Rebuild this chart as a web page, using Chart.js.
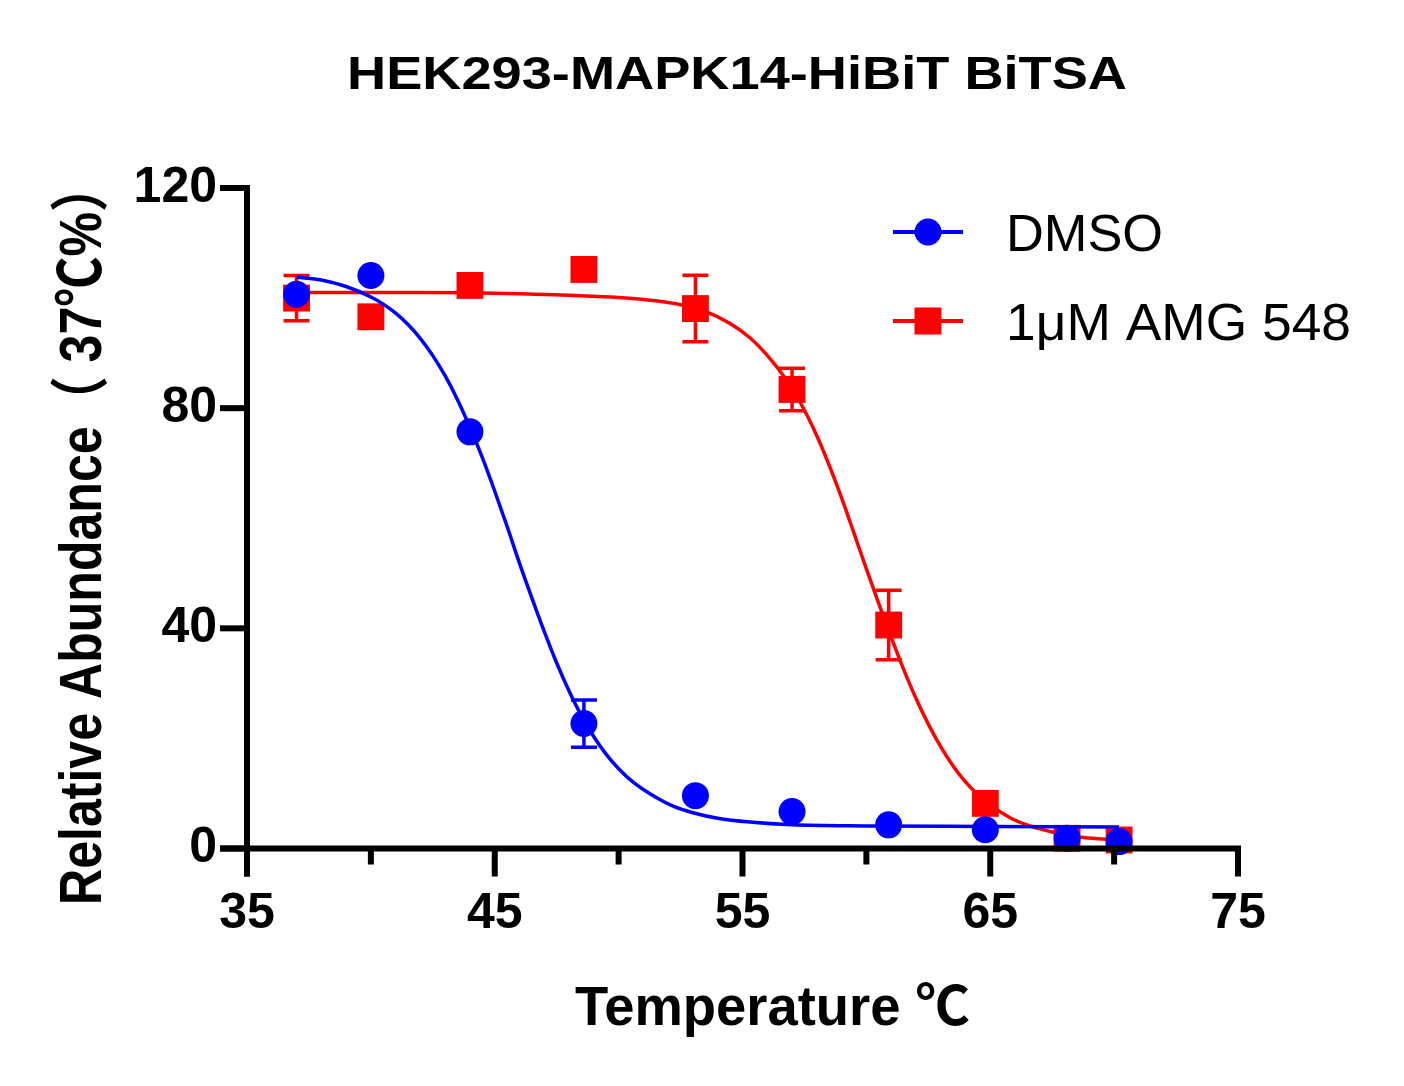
<!DOCTYPE html>
<html><head><meta charset="utf-8">
<script src="https://cdn.jsdelivr.net/npm/chart.js@4.4.1/dist/chart.umd.min.js"></script>
<style>html,body{margin:0;padding:0;background:#fff;} canvas{display:block;}</style>
</head><body>
<canvas id="c" width="1404" height="1086" style="width:1404px;height:1086px"></canvas>
<script>
const chartTitle = 'HEK293-MAPK14-HiBiT BiTSA';
const xTitle = 'Temperature ℃';
const yTitle = 'Relative Abundance（ 37℃%）';
const seriesNames = ['DMSO', '1μM AMG 548'];
const seriesColors = ['#0000FF', '#FF0000'];

const temperatures = [37, 40, 44, 48.6, 53.1, 57, 60.9, 64.8, 68.1, 70.2];
const dmsoMean = [100.7, 104.1, 75.7, 22.7, 9.6, 6.7, 4.3, 3.4, 1.85, 1.25];
const dmsoErr  = [0, 0, 0, 4.3, 0, 0, 0, 0, 0, 0];
const amgMean  = [100.0, 96.6, 102.3, 105.2, 98.1, 83.4, 40.6, 8.2, 1.85, 1.55];
const amgErr   = [4.1, 0, 0, 0, 6.05, 3.85, 6.3, 0, 0, 0];

const dmsoFitX = [37, 38, 39, 40, 40.5, 41, 41.5, 42, 42.5, 43, 43.5, 44, 44.5, 45, 45.5, 46, 46.5, 47, 47.5, 48, 48.5, 49, 49.5, 50, 50.6, 51.5, 52.2, 53, 54, 55.3, 57, 60, 65, 70.2];
const dmsoFitY = [103.8, 103.3, 102.1, 100.2, 98.9, 97.25, 95.2, 92.65, 89.55, 85.85, 81.5, 76.5, 71.0, 64.9, 58.5, 51.8, 45.5, 39.4, 33.7, 28.6, 24.1, 20.3, 17.1, 14.5, 12.0, 9.3, 7.7, 6.5, 5.5, 4.8, 4.3, 4.1, 4.0, 3.9];
const amgFitX = [37, 42, 46, 48, 50, 51.5, 52.5, 53.5, 54.5, 55.3, 56, 56.7, 57.3, 58, 58.5, 59, 59.5, 60, 60.5, 61, 61.5, 62, 62.5, 63, 63.5, 64, 64.5, 65.1, 65.8, 66.6, 67.5, 68.2, 69, 70.2];
const amgFitY = [101.0, 101.0, 100.8, 100.5, 100.1, 99.5, 98.8, 97.6, 95.4, 92.8, 89.6, 85.6, 81.3, 75.0, 69.6, 63.7, 57.3, 50.8, 44.5, 38.4, 32.6, 27.3, 22.6, 18.5, 15.0, 12.1, 9.8, 7.6, 5.6, 4.1, 3.0, 2.3, 1.9, 1.5];

const xMin = 35, xMax = 75, xStep = 5;
const xTickLabels = [35, 45, 55, 65, 75];
const yMin = 0, yMax = 120;
const yTickLabels = [0, 40, 80, 120];

const FONT = "'Liberation Sans', Arial, 'Noto Sans CJK SC', sans-serif";
Chart.defaults.font.family = FONT;
Chart.defaults.color = '#000';

const zip = (xs, ys) => xs.map((x, i) => ({x, y: ys[i]}));
const errSets = [
  {mean: dmsoMean, err: dmsoErr, color: seriesColors[0]},
  {mean: amgMean, err: amgErr, color: seriesColors[1]}
];

function fitText(ctx, text, font, targetW) {
  ctx.font = font;
  const w = ctx.measureText(text).width;
  return targetW / w;
}

const decor = {
  id: 'decor',
  beforeDatasetsDraw(chart) {
    const ctx = chart.ctx, xs = chart.scales.x, ys = chart.scales.y;
    ctx.save();
    ctx.lineWidth = 3.5;
    errSets.forEach(s => {
      ctx.strokeStyle = s.color;
      temperatures.forEach((t, i) => {
        const e = s.err[i];
        if (!e) return;
        const x = xs.getPixelForValue(t);
        const y1 = ys.getPixelForValue(s.mean[i] + e);
        const y2 = ys.getPixelForValue(s.mean[i] - e);
        ctx.beginPath();
        ctx.moveTo(x, y1); ctx.lineTo(x, y2);
        ctx.moveTo(x - 13, y1); ctx.lineTo(x + 13, y1);
        ctx.moveTo(x - 13, y2); ctx.lineTo(x + 13, y2);
        ctx.stroke();
      });
    });
    ctx.restore();
  },
  afterDatasetsDraw(chart) {
    const ctx = chart.ctx, xs = chart.scales.x, ys = chart.scales.y;
    const a = chart.chartArea;
    const lw = 6, majorLen = 28, minorLen = 16, yLen = 27;
    ctx.save();
    ctx.fillStyle = '#000';
    ctx.fillRect(a.left - yLen, a.bottom - lw / 2, (a.right + lw / 2) - (a.left - yLen), lw);
    ctx.fillRect(a.left - lw / 2, a.top - lw / 2, lw, (a.bottom + majorLen) - (a.top - lw / 2));
    xs.ticks.forEach(tk => {
      const x = xs.getPixelForValue(tk.value);
      const len = xTickLabels.includes(tk.value) ? majorLen : minorLen;
      ctx.fillRect(x - lw / 2, a.bottom, lw, len);
    });
    ys.ticks.forEach(tk => {
      const y = ys.getPixelForValue(tk.value);
      ctx.fillRect(a.left - yLen, y - lw / 2, yLen, lw);
    });
    ctx.restore();
  },
  afterDraw(chart) {
    const ctx = chart.ctx;
    ctx.save();
    ctx.fillStyle = '#000';
    ctx.textBaseline = 'alphabetic';
    ctx.textAlign = 'left';
    let f = "bold 47px " + FONT;
    let sx = fitText(ctx, chartTitle, f, 780);
    ctx.save(); ctx.translate(347, 89); ctx.scale(sx, 1); ctx.fillText(chartTitle, 0, 0); ctx.restore();
    f = "bold 55px " + FONT;
    sx = fitText(ctx, xTitle, f, 395);
    ctx.save(); ctx.translate(575, 1025); ctx.scale(sx, 1); ctx.fillText(xTitle, 0, 0); ctx.restore();
    f = "bold 59px " + FONT;
    sx = fitText(ctx, yTitle, f, 743);
    ctx.save(); ctx.translate(101, 905); ctx.rotate(-Math.PI / 2); ctx.scale(sx, 1); ctx.fillText(yTitle, 0, 0); ctx.restore();
    const rows = [232, 321];
    rows.forEach((yy, i) => {
      ctx.strokeStyle = seriesColors[i];
      ctx.fillStyle = seriesColors[i];
      ctx.lineWidth = 4;
      ctx.beginPath(); ctx.moveTo(893, yy); ctx.lineTo(963, yy); ctx.stroke();
      if (i === 0) { ctx.beginPath(); ctx.arc(928, yy, 13.5, 0, Math.PI * 2); ctx.fill(); }
      else { ctx.fillRect(928 - 13.5, yy - 13.5, 27, 27); }
      ctx.fillStyle = '#000';
      const lf = "52px " + FONT;
      const tw = i === 0 ? 157 : 345;
      const s = fitText(ctx, seriesNames[i], lf, tw);
      ctx.save(); ctx.translate(1006, yy + 19); ctx.scale(s, 1); ctx.fillText(seriesNames[i], 0, 0); ctx.restore();
    });
    ctx.restore();
  }
};

new Chart(document.getElementById('c'), {
  type: 'scatter',
  data: {
    datasets: [
      {label: seriesNames[0], data: zip(temperatures, dmsoMean), pointStyle: 'circle', pointRadius: 13.5,
       backgroundColor: seriesColors[0], borderWidth: 0, order: 0, clip: false},
      {label: seriesNames[0] + ' fit', data: zip(dmsoFitX, dmsoFitY), showLine: true, pointRadius: 0,
       borderColor: seriesColors[0], borderWidth: 3.5, cubicInterpolationMode: 'monotone', order: 1, clip: false},
      {label: seriesNames[1], data: zip(temperatures, amgMean), pointStyle: 'rect', pointRadius: 19,
       backgroundColor: seriesColors[1], borderWidth: 0, order: 2, clip: false},
      {label: seriesNames[1] + ' fit', data: zip(amgFitX, amgFitY), showLine: true, pointRadius: 0,
       borderColor: seriesColors[1], borderWidth: 3.5, cubicInterpolationMode: 'monotone', order: 3, clip: false}
    ]
  },
  options: {
    responsive: false,
    animation: false,
    events: [],
    devicePixelRatio: 1,
    layout: {padding: {top: 188, right: 166, left: 0, bottom: 0}},
    plugins: {legend: {display: false}, title: {display: false}, tooltip: {enabled: false}},
    scales: {
      x: {
        type: 'linear', min: xMin, max: xMax,
        grid: {display: false, drawTicks: false},
        border: {display: false},
        ticks: {stepSize: xStep, autoSkip: false, maxRotation: 0, padding: 36,
                font: {size: 50, weight: 'bold'}, color: '#000',
                callback: v => xTickLabels.includes(v) ? String(v) : ''},
        afterFit: s => { s.height = 1086 - 848.5; }
      },
      y: {
        type: 'linear', min: yMin, max: yMax,
        grid: {display: false, drawTicks: false},
        border: {display: false},
        ticks: {stepSize: 40, padding: 30, font: {size: 50, weight: 'bold'}, color: '#000',
                callback: v => yTickLabels.includes(v) ? String(v) : ''},
        afterFit: s => { s.width = 247; }
      }
    }
  },
  plugins: [decor]
});
</script>
</body></html>
